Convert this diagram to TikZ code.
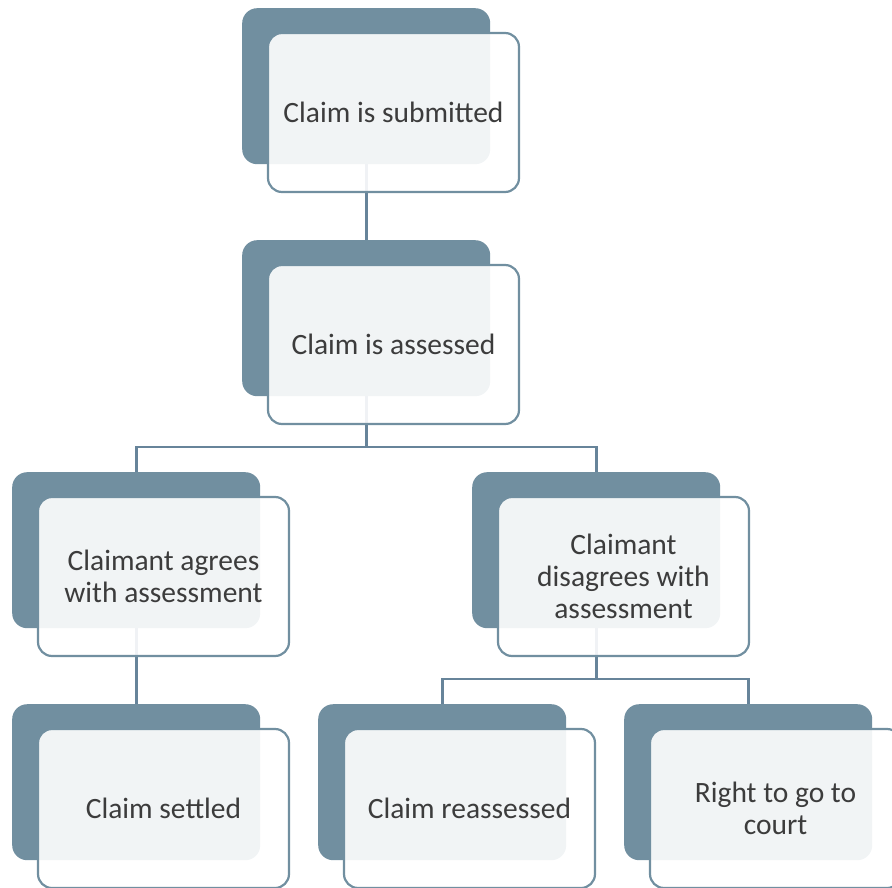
\documentclass[tikz,border=0pt]{standalone}
\usepackage{fontspec}
\setmainfont{Carlito}
\definecolor{slate}{HTML}{718FA0}
\definecolor{linec}{HTML}{67849A}
\definecolor{txt}{HTML}{3C3C3C}
\tikzset{
  backbox/.style={draw=none, fill=slate, rounded corners=15pt, minimum width=248pt, minimum height=156pt, inner sep=0pt, anchor=north west},
  frontbox/.style={draw=slate, line width=2.2pt, fill=white, fill opacity=0.9, text opacity=1, rounded corners=14pt, minimum width=251pt, minimum height=159pt, inner sep=0pt, anchor=center, align=center, text=txt, font=\fontsize{29.5}{32}\selectfont},
  conn/.style={draw=linec, line width=2.8pt}
}
\begin{document}
\begin{tikzpicture}[x=1pt,y=-1pt]
\useasboundingbox (0,0) rectangle (892,888);
\clip (0,0) rectangle (892,888);
% back boxes
\node[backbox] (b1) at (242,8) {};
\node[backbox] (b2) at (242,240) {};
\node[backbox] (b3) at (12,472) {};
\node[backbox] (b4) at (472,472) {};
\node[backbox] (b5) at (12,704) {};
\node[backbox] (b6) at (318,704) {};
\node[backbox] (b7) at (624,704) {};
% connectors
\coordinate (j1) at (b2.south |- 0,447);
\coordinate (j2) at (b4.south |- 0,679);
\draw[conn] (b1.south) -- (b2.north);
\draw[conn] (b2.south) -- (j1);
\draw[conn] (j1) -| (b3.north);
\draw[conn] (j1) -| (b4.north);
\draw[conn] (b3.south) -- (b5.north);
\draw[conn] (b4.south) -- (j2);
\draw[conn] (j2) -| (b6.north);
\draw[conn] (j2) -| (b7.north);
% front boxes
\node[frontbox] (f1) at (393.5,112.5) {Claim is submitted};
\node[frontbox] (f2) at (393.5,344.5) {Claim is assessed};
\node[frontbox] (f3) at (163.5,576.5) {Claimant agrees\\with assessment};
\node[frontbox] (f4) at (623.5,576.5) {Claimant\\disagrees with\\assessment};
\node[frontbox] (f5) at (163.5,808.5) {Claim settled};
\node[frontbox] (f6) at (469.5,808.5) {Claim reassessed};
\node[frontbox] (f7) at (775.5,808.5) {Right to go to\\court};
\end{tikzpicture}
\end{document}
